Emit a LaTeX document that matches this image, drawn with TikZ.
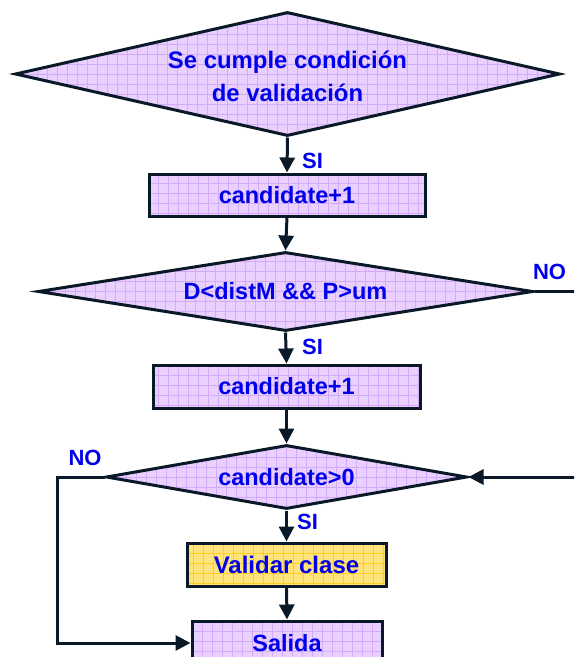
\documentclass[tikz,border=0pt]{standalone}
\usepackage{fontspec}
\setmainfont{Liberation Sans}
\usetikzlibrary{shapes.geometric,arrows.meta}
\definecolor{lav}{RGB}{234,208,255}
\definecolor{lavgrid}{RGB}{210,170,250}
\definecolor{gold}{RGB}{255,228,125}
\definecolor{goldgrid}{RGB}{255,206,30}
\definecolor{txt}{RGB}{0,0,235}
\definecolor{edge}{RGB}{10,25,40}

\begin{document}
\begin{tikzpicture}[x=1pt,y=-1pt,
  font=\fontsize{23.5}{33}\selectfont\bfseries,
  gridfill/.style={path picture={%
      \draw[#1,line width=0.7pt]
        ([shift={(-10pt,-10pt)}]path picture bounding box.south west)
        grid[step=10pt] (path picture bounding box.north east);}},
  dec/.style={diamond, draw=edge, line width=3pt, fill=lav, gridfill=lavgrid,
    text=txt, inner sep=0pt, align=center},
  proc/.style={rectangle, draw=edge, line width=3pt, fill=lav, gridfill=lavgrid,
    text=txt, inner sep=0pt},
  act/.style={proc, fill=gold, gridfill=goldgrid},
  link/.style={draw=edge, line width=3pt},
  flow/.style={link, -{Triangle[length=15pt,width=15pt]}},
  lbl/.style={text=txt, inner sep=0pt, font=\fontsize{22}{25}\selectfont\bfseries}]

\useasboundingbox (0,0) rectangle (574,657);
\clip (0,0) rectangle (574,657);

% decisions and process steps
\node[dec, shape aspect=4.4, minimum width=545pt, minimum height=124pt,
  font=\fontsize{23.9}{33}\selectfont\bfseries] (q1) at (287.5,74)
  {\raisebox{-11pt}[0pt][0pt]{\begin{tabular}{@{}c@{}}Se cumple condición\\de validación\end{tabular}}};
\node[proc, minimum width=276pt, minimum height=42pt] (b1) at (287,195) {candidate+1};
\node[dec, shape aspect=6.27, minimum width=495pt, minimum height=79pt] (q2) at (285.5,291.5)
  {D<distM \&\& P>um};
\node[proc, minimum width=267pt, minimum height=43pt] (b2) at (286.5,386.5) {candidate+1};
\node[dec, shape aspect=5.64, minimum width=361pt, minimum height=64pt] (q3) at (286.5,477)
  {candidate>0};
\node[act, minimum width=199pt, minimum height=43pt,
  font=\fontsize{24}{33}\selectfont\bfseries] (val) at (286.5,564.5) {Validar clase};
\node[proc, minimum width=190pt, minimum height=44pt] (out) at (287,643) {Salida};

% free ends and corners
\coordinate (e1) at (576,291.5);
\coordinate (e2) at (576,477);
\coordinate (c1) at (57,477);

% connectors
\draw[flow] (q1.south) -- (b1.north);
\draw[flow] (b1.south) -- (q2.north);
\draw[flow] (q2.south) -- (b2.north);
\draw[flow] (b2.south) -- (q3.north);
\draw[flow] (q3.south) -- (val.north);
\draw[flow] (val.south) -- (out.north);
\draw[link] (q2.east) -- (e1);
\draw[flow] (e2) -- (q3.east);
\draw[flow] (q3.west) -- (c1) |- (out.west);

% branch labels
\node[lbl] (s1) at (312.5,160.5) {SI};
\node[lbl] (s2) at (312.5,347) {SI};
\node[lbl] (s3) at (307.5,521.5) {SI};
\node[lbl] (n1) at (549.5,272) {NO};
\node[lbl] (n2) at (85,458) {NO};
\end{tikzpicture}
\end{document}
